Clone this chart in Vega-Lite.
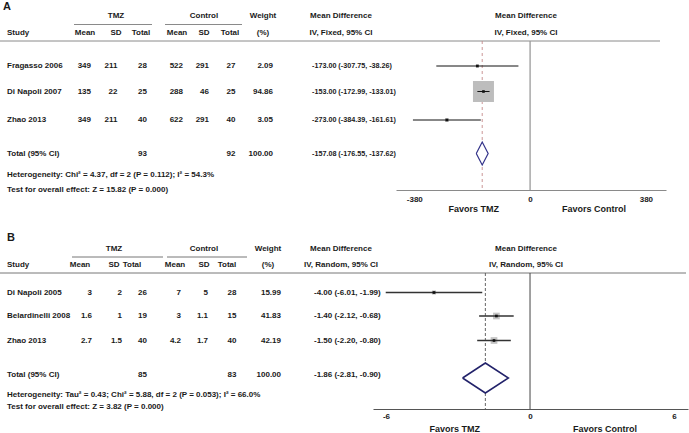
{
  "$schema": "https://vega.github.io/schema/vega-lite/v6.json",
  "width": 689,
  "height": 433,
  "autosize": "none",
  "padding": 0,
  "background": "white",
  "config": {"view": {"stroke": null}, "text": {"font": "Liberation Sans", "fontWeight": "bold", "fontSize": 8, "color": "#1a1a1a", "baseline": "middle"}},
  "datasets": {
    "cells": [
      {"panel": "A", "line": 0, "col": 0, "text": "A"},
      {"panel": "A", "line": 1, "col": 2, "text": "TMZ"},
      {"panel": "A", "line": 1, "col": 5, "text": "Control"},
      {"panel": "A", "line": 1, "col": 7, "text": "Weight"},
      {"panel": "A", "line": 1, "col": 8, "text": "Mean Difference"},
      {"panel": "A", "line": 1, "col": 9, "text": "Mean Difference"},
      {"panel": "A", "line": 2, "col": 0, "text": "Study"},
      {"panel": "A", "line": 2, "col": 1, "text": "Mean"},
      {"panel": "A", "line": 2, "col": 2, "text": "SD"},
      {"panel": "A", "line": 2, "col": 3, "text": "Total"},
      {"panel": "A", "line": 2, "col": 4, "text": "Mean"},
      {"panel": "A", "line": 2, "col": 5, "text": "SD"},
      {"panel": "A", "line": 2, "col": 6, "text": "Total"},
      {"panel": "A", "line": 2, "col": 7, "text": "(%)"},
      {"panel": "A", "line": 2, "col": 8, "text": "IV, Fixed, 95% CI"},
      {"panel": "A", "line": 2, "col": 9, "text": "IV, Fixed, 95% CI"},
      {"panel": "A", "line": 3, "col": 0, "text": "Fragasso 2006"},
      {"panel": "A", "line": 3, "col": 1, "text": "349"},
      {"panel": "A", "line": 3, "col": 2, "text": "211"},
      {"panel": "A", "line": 3, "col": 3, "text": "28"},
      {"panel": "A", "line": 3, "col": 4, "text": "522"},
      {"panel": "A", "line": 3, "col": 5, "text": "291"},
      {"panel": "A", "line": 3, "col": 6, "text": "27"},
      {"panel": "A", "line": 3, "col": 7, "text": "2.09"},
      {"panel": "A", "line": 3, "col": 8, "text": "-173.00 (-307.75, -38.26)"},
      {"panel": "A", "line": 4, "col": 0, "text": "Di Napoli 2007"},
      {"panel": "A", "line": 4, "col": 1, "text": "135"},
      {"panel": "A", "line": 4, "col": 2, "text": "22"},
      {"panel": "A", "line": 4, "col": 3, "text": "25"},
      {"panel": "A", "line": 4, "col": 4, "text": "288"},
      {"panel": "A", "line": 4, "col": 5, "text": "46"},
      {"panel": "A", "line": 4, "col": 6, "text": "25"},
      {"panel": "A", "line": 4, "col": 7, "text": "94.86"},
      {"panel": "A", "line": 4, "col": 8, "text": "-153.00 (-172.99, -133.01)"},
      {"panel": "A", "line": 5, "col": 0, "text": "Zhao 2013"},
      {"panel": "A", "line": 5, "col": 1, "text": "349"},
      {"panel": "A", "line": 5, "col": 2, "text": "211"},
      {"panel": "A", "line": 5, "col": 3, "text": "40"},
      {"panel": "A", "line": 5, "col": 4, "text": "622"},
      {"panel": "A", "line": 5, "col": 5, "text": "291"},
      {"panel": "A", "line": 5, "col": 6, "text": "40"},
      {"panel": "A", "line": 5, "col": 7, "text": "3.05"},
      {"panel": "A", "line": 5, "col": 8, "text": "-273.00 (-384.39, -161.61)"},
      {"panel": "A", "line": 6, "col": 0, "text": "Total (95% CI)"},
      {"panel": "A", "line": 6, "col": 3, "text": "93"},
      {"panel": "A", "line": 6, "col": 6, "text": "92"},
      {"panel": "A", "line": 6, "col": 7, "text": "100.00"},
      {"panel": "A", "line": 6, "col": 8, "text": "-157.08 (-176.55, -137.62)"},
      {"panel": "A", "line": 7, "col": 0, "text": "Heterogeneity: Chi² = 4.37, df = 2 (P = 0.112); I² = 54.3%"},
      {"panel": "A", "line": 8, "col": 0, "text": "Test for overall effect: Z = 15.82 (P = 0.000)"},
      {"panel": "B", "line": 0, "col": 0, "text": "B"},
      {"panel": "B", "line": 1, "col": 2, "text": "TMZ"},
      {"panel": "B", "line": 1, "col": 5, "text": "Control"},
      {"panel": "B", "line": 1, "col": 7, "text": "Weight"},
      {"panel": "B", "line": 1, "col": 8, "text": "Mean Difference"},
      {"panel": "B", "line": 1, "col": 9, "text": "Mean Difference"},
      {"panel": "B", "line": 2, "col": 0, "text": "Study"},
      {"panel": "B", "line": 2, "col": 1, "text": "Mean"},
      {"panel": "B", "line": 2, "col": 2, "text": "SD"},
      {"panel": "B", "line": 2, "col": 3, "text": "Total"},
      {"panel": "B", "line": 2, "col": 4, "text": "Mean"},
      {"panel": "B", "line": 2, "col": 5, "text": "SD"},
      {"panel": "B", "line": 2, "col": 6, "text": "Total"},
      {"panel": "B", "line": 2, "col": 7, "text": "(%)"},
      {"panel": "B", "line": 2, "col": 8, "text": "IV, Random, 95% CI"},
      {"panel": "B", "line": 2, "col": 9, "text": "IV, Random, 95% CI"},
      {"panel": "B", "line": 3, "col": 0, "text": "Di Napoli 2005"},
      {"panel": "B", "line": 3, "col": 1, "text": "3"},
      {"panel": "B", "line": 3, "col": 2, "text": "2"},
      {"panel": "B", "line": 3, "col": 3, "text": "26"},
      {"panel": "B", "line": 3, "col": 4, "text": "7"},
      {"panel": "B", "line": 3, "col": 5, "text": "5"},
      {"panel": "B", "line": 3, "col": 6, "text": "28"},
      {"panel": "B", "line": 3, "col": 7, "text": "15.99"},
      {"panel": "B", "line": 3, "col": 8, "text": "-4.00 (-6.01, -1.99)"},
      {"panel": "B", "line": 4, "col": 0, "text": "Belardinelli 2008"},
      {"panel": "B", "line": 4, "col": 1, "text": "1.6"},
      {"panel": "B", "line": 4, "col": 2, "text": "1"},
      {"panel": "B", "line": 4, "col": 3, "text": "19"},
      {"panel": "B", "line": 4, "col": 4, "text": "3"},
      {"panel": "B", "line": 4, "col": 5, "text": "1.1"},
      {"panel": "B", "line": 4, "col": 6, "text": "15"},
      {"panel": "B", "line": 4, "col": 7, "text": "41.83"},
      {"panel": "B", "line": 4, "col": 8, "text": "-1.40 (-2.12, -0.68)"},
      {"panel": "B", "line": 5, "col": 0, "text": "Zhao 2013"},
      {"panel": "B", "line": 5, "col": 1, "text": "2.7"},
      {"panel": "B", "line": 5, "col": 2, "text": "1.5"},
      {"panel": "B", "line": 5, "col": 3, "text": "40"},
      {"panel": "B", "line": 5, "col": 4, "text": "4.2"},
      {"panel": "B", "line": 5, "col": 5, "text": "1.7"},
      {"panel": "B", "line": 5, "col": 6, "text": "40"},
      {"panel": "B", "line": 5, "col": 7, "text": "42.19"},
      {"panel": "B", "line": 5, "col": 8, "text": "-1.50 (-2.20, -0.80)"},
      {"panel": "B", "line": 6, "col": 0, "text": "Total (95% CI)"},
      {"panel": "B", "line": 6, "col": 3, "text": "85"},
      {"panel": "B", "line": 6, "col": 6, "text": "83"},
      {"panel": "B", "line": 6, "col": 7, "text": "100.00"},
      {"panel": "B", "line": 6, "col": 8, "text": "-1.86 (-2.81, -0.90)"},
      {"panel": "B", "line": 7, "col": 0, "text": "Heterogeneity: Tau² = 0.43; Chi² = 5.88, df = 2 (P = 0.053); I² = 66.0%"},
      {"panel": "B", "line": 8, "col": 0, "text": "Test for overall effect: Z = 3.82 (P = 0.000)"}
    ],
    "studies": [
      {"panel": "A", "line": 3, "study": "Fragasso 2006", "md": -173.0, "lo": -307.75, "hi": -38.26, "weight": 2.09},
      {"panel": "A", "line": 4, "study": "Di Napoli 2007", "md": -153.0, "lo": -172.99, "hi": -133.01, "weight": 94.86},
      {"panel": "A", "line": 5, "study": "Zhao 2013", "md": -273.0, "lo": -384.39, "hi": -161.61, "weight": 3.05},
      {"panel": "B", "line": 3, "study": "Di Napoli 2005", "md": -4.0, "lo": -6.01, "hi": -1.99, "weight": 15.99},
      {"panel": "B", "line": 4, "study": "Belardinelli 2008", "md": -1.4, "lo": -2.12, "hi": -0.68, "weight": 41.83},
      {"panel": "B", "line": 5, "study": "Zhao 2013", "md": -1.5, "lo": -2.2, "hi": -0.8, "weight": 42.19}
    ],
    "diamonds": [
      {"panel": "A", "k": 1, "v": "mid", "x": -176.55},
      {"panel": "A", "k": 2, "v": "top", "x": -157.08},
      {"panel": "A", "k": 3, "v": "mid", "x": -137.62},
      {"panel": "A", "k": 4, "v": "bottom", "x": -157.08},
      {"panel": "A", "k": 5, "v": "mid", "x": -176.55},
      {"panel": "B", "k": 1, "v": "mid", "x": -2.81},
      {"panel": "B", "k": 2, "v": "top", "x": -1.86},
      {"panel": "B", "k": 3, "v": "mid", "x": -0.9},
      {"panel": "B", "k": 4, "v": "bottom", "x": -1.86},
      {"panel": "B", "k": 5, "v": "mid", "x": -2.81}
    ],
    "refs": [
      {"panel": "A", "ref": "null", "value": 0},
      {"panel": "A", "ref": "pooled", "value": -157.08},
      {"panel": "B", "ref": "null", "value": 0},
      {"panel": "B", "ref": "pooled", "value": -1.86}
    ],
    "rules": [
      {"panel": "A", "at": "underline", "from": 1, "to": 3},
      {"panel": "A", "at": "underline", "from": 4, "to": 6},
      {"panel": "A", "at": "separator", "from": -1, "to": 10},
      {"panel": "B", "at": "underline", "from": 1, "to": 3},
      {"panel": "B", "at": "underline", "from": 4, "to": 6},
      {"panel": "B", "at": "separator", "from": -1, "to": 10}
    ],
    "favors": [
      {"panel": "A", "side": "left", "text": "Favors TMZ"},
      {"panel": "A", "side": "right", "text": "Favors Control"},
      {"panel": "B", "side": "left", "text": "Favors TMZ"},
      {"panel": "B", "side": "right", "text": "Favors Control"}
    ]
  },
  "resolve": {"scale": {"x": "independent", "y": "independent", "size": "independent"}, "axis": {"x": "independent", "y": "independent"}},
  "layer": [
    {
      "data": {"name": "cells"},
      "transform": [{"filter": "datum.panel === 'A' && datum.line === 0"}],
      "mark": {"type": "text", "align": "left", "fontSize": 11, "dx": -4},
      "encoding": {
        "x": {"field": "col", "type": "quantitative", "axis": null, "scale": {"domain": [0, 8], "range": [7, 312], "nice": false, "zero": false}},
        "y": {"field": "line", "type": "quantitative", "axis": null, "scale": {"domain": [0, 1, 2, 3, 4, 5, 6, 7, 8, 9], "range": [6.5, 16, 32.5, 66, 91.5, 120, 153.5, 175, 190, 209], "nice": false, "zero": false}},
        "text": {"field": "text"}
      }
    },
    {
      "data": {"name": "cells"},
      "transform": [{"filter": "datum.panel === 'A' && datum.line >= 2 && datum.col === 0"}],
      "mark": {"type": "text", "align": "left"},
      "encoding": {
        "x": {"field": "col", "type": "quantitative", "axis": null, "scale": {"domain": [0, 8], "range": [7, 312], "nice": false, "zero": false}},
        "y": {"field": "line", "type": "quantitative", "axis": null, "scale": {"domain": [0, 1, 2, 3, 4, 5, 6, 7, 8, 9], "range": [6.5, 16, 32.5, 66, 91.5, 120, 153.5, 175, 190, 209], "nice": false, "zero": false}},
        "text": {"field": "text"}
      }
    },
    {
      "data": {"name": "cells"},
      "transform": [{"filter": "datum.panel === 'A' && datum.line >= 3 && datum.col === 8"}],
      "mark": {"type": "text", "align": "left", "fontSize": 7.2},
      "encoding": {
        "x": {"field": "col", "type": "quantitative", "axis": null, "scale": {"domain": [0, 8], "range": [7, 312], "nice": false, "zero": false}},
        "y": {"field": "line", "type": "quantitative", "axis": null, "scale": {"domain": [0, 1, 2, 3, 4, 5, 6, 7, 8, 9], "range": [6.5, 16, 32.5, 66, 91.5, 120, 153.5, 175, 190, 209], "nice": false, "zero": false}},
        "text": {"field": "text"}
      }
    },
    {
      "data": {"name": "cells"},
      "transform": [{"filter": "datum.panel === 'A' && datum.line >= 1 && datum.line <= 2 && datum.col >= 1"}],
      "mark": {"type": "text", "align": "center"},
      "encoding": {
        "x": {"field": "col", "type": "quantitative", "axis": null, "scale": {"domain": [1, 2, 3, 4, 5, 6, 7, 8, 9], "range": [85, 116, 141, 177, 204, 230, 263, 341, 526], "nice": false, "zero": false}},
        "y": {"field": "line", "type": "quantitative", "axis": null, "scale": {"domain": [0, 1, 2, 3, 4, 5, 6, 7, 8, 9], "range": [6.5, 16, 32.5, 66, 91.5, 120, 153.5, 175, 190, 209], "nice": false, "zero": false}},
        "text": {"field": "text"}
      }
    },
    {
      "data": {"name": "cells"},
      "transform": [{"filter": "datum.panel === 'A' && datum.line >= 3 && datum.line <= 6 && datum.col >= 1 && datum.col <= 7"}],
      "mark": {"type": "text", "align": "right"},
      "encoding": {
        "x": {"field": "col", "type": "quantitative", "axis": null, "scale": {"domain": [1, 2, 3, 4, 5, 6, 7], "range": [91, 117.5, 147, 183, 209, 235.5, 273], "nice": false, "zero": false}},
        "y": {"field": "line", "type": "quantitative", "axis": null, "scale": {"domain": [0, 1, 2, 3, 4, 5, 6, 7, 8, 9], "range": [6.5, 16, 32.5, 66, 91.5, 120, 153.5, 175, 190, 209], "nice": false, "zero": false}},
        "text": {"field": "text"}
      }
    },
    {
      "data": {"name": "rules"},
      "transform": [{"filter": "datum.panel === 'A'"}],
      "mark": {"type": "rule", "color": "#8a8a8a", "strokeWidth": 1},
      "encoding": {
        "x": {"field": "from", "type": "quantitative", "axis": null, "scale": {"domain": [-1, 1, 3, 4, 6, 10], "range": [0, 74, 152, 165, 242, 660], "nice": false, "zero": false}},
        "x2": {"field": "to"},
        "y": {"field": "at", "type": "nominal", "axis": null, "scale": {"type": "point", "domain": ["underline", "separator"], "range": [24.5, 41], "padding": 0}}
      }
    },
    {
      "data": {"name": "refs"},
      "transform": [{"filter": "datum.panel === 'A' && datum.ref === 'null'"}],
      "mark": {"type": "rule", "color": "#9a9a9a", "strokeWidth": 1.3},
      "encoding": {
        "x": {"field": "value", "type": "quantitative", "axis": null, "scale": {"domain": [-440, 446], "range": [396, 666], "nice": false, "zero": false}},
        "y": {"datum": "top", "type": "nominal", "axis": null, "scale": {"type": "point", "domain": ["top", "bottom"], "range": [41, 190], "padding": 0}},
        "y2": {"datum": "bottom"}
      }
    },
    {
      "data": {"name": "refs"},
      "transform": [{"filter": "datum.panel === 'A' && datum.ref === 'pooled'"}],
      "mark": {"type": "rule", "color": "#c48a8a", "strokeWidth": 0.9, "strokeDash": [3, 3]},
      "encoding": {
        "x": {"field": "value", "type": "quantitative", "axis": null, "scale": {"domain": [-440, 446], "range": [396, 666], "nice": false, "zero": false}},
        "y": {"datum": "top", "type": "nominal", "axis": null, "scale": {"type": "point", "domain": ["top", "bottom"], "range": [41, 190], "padding": 0}},
        "y2": {"datum": "bottom"}
      }
    },
    {
      "data": {"name": "studies"},
      "transform": [{"filter": "datum.panel === 'A'"}],
      "mark": {"type": "point", "shape": "square", "filled": true, "color": "#bdbdbd", "opacity": 1},
      "encoding": {
        "x": {"field": "md", "type": "quantitative", "axis": null, "scale": {"domain": [-440, 446], "range": [396, 666], "nice": false, "zero": false}},
        "y": {"field": "line", "type": "quantitative", "axis": null, "scale": {"domain": [0, 1, 2, 3, 4, 5, 6, 7, 8, 9], "range": [6.5, 16, 32.5, 66, 91.5, 120, 153.5, 175, 190, 209], "nice": false, "zero": false}},
        "size": {"field": "weight", "type": "quantitative", "legend": null, "scale": {"domain": [0, 100], "range": [0, 465], "zero": true}}
      }
    },
    {
      "data": {"name": "studies"},
      "transform": [{"filter": "datum.panel === 'A'"}],
      "mark": {"type": "rule", "color": "#111111", "strokeWidth": 1},
      "encoding": {
        "x": {"field": "lo", "type": "quantitative", "scale": {"domain": [-440, 446], "range": [396, 666], "nice": false, "zero": false},
              "axis": {"orient": "bottom", "offset": -243, "values": [-380, 0, 380], "labelExpr": "'' + datum.value", "ticks": false, "grid": false, "title": null, "domainColor": "#8a8a8a", "domainWidth": 1, "labelFont": "Liberation Sans", "labelFontWeight": "bold", "labelFontSize": 8, "labelColor": "#1a1a1a", "labelPadding": 5, "labelFlush": false, "labelOverlap": false}},
        "x2": {"field": "hi"},
        "y": {"field": "line", "type": "quantitative", "axis": null, "scale": {"domain": [0, 1, 2, 3, 4, 5, 6, 7, 8, 9], "range": [6.5, 16, 32.5, 66, 91.5, 120, 153.5, 175, 190, 209], "nice": false, "zero": false}}
      }
    },
    {
      "data": {"name": "studies"},
      "transform": [{"filter": "datum.panel === 'A'"}],
      "mark": {"type": "point", "shape": "square", "filled": true, "color": "#111111", "size": 7, "opacity": 1},
      "encoding": {
        "x": {"field": "md", "type": "quantitative", "axis": null, "scale": {"domain": [-440, 446], "range": [396, 666], "nice": false, "zero": false}},
        "y": {"field": "line", "type": "quantitative", "axis": null, "scale": {"domain": [0, 1, 2, 3, 4, 5, 6, 7, 8, 9], "range": [6.5, 16, 32.5, 66, 91.5, 120, 153.5, 175, 190, 209], "nice": false, "zero": false}}
      }
    },
    {
      "data": {"name": "diamonds"},
      "transform": [{"filter": "datum.panel === 'A'"}],
      "mark": {"type": "line", "filled": true, "fill": "white", "stroke": "#33338a", "strokeWidth": 1.2},
      "encoding": {
        "x": {"field": "x", "type": "quantitative", "axis": null, "scale": {"domain": [-440, 446], "range": [396, 666], "nice": false, "zero": false}},
        "y": {"field": "v", "type": "nominal", "axis": null, "scale": {"type": "point", "domain": ["top", "mid", "bottom"], "range": [142, 165], "padding": 0}},
        "order": {"field": "k", "type": "quantitative"}
      }
    },
    {
      "data": {"name": "favors"},
      "transform": [{"filter": "datum.panel === 'A' && datum.side === 'left'"}],
      "mark": {"type": "text", "align": "right", "dx": -31, "fontSize": 9},
      "encoding": {
        "x": {"datum": 0, "type": "quantitative", "axis": null, "scale": {"domain": [-440, 446], "range": [396, 666], "nice": false, "zero": false}},
        "y": {"datum": 9, "type": "quantitative", "axis": null, "scale": {"domain": [0, 1, 2, 3, 4, 5, 6, 7, 8, 9], "range": [6.5, 16, 32.5, 66, 91.5, 120, 153.5, 175, 190, 209], "nice": false, "zero": false}},
        "text": {"field": "text"}
      }
    },
    {
      "data": {"name": "favors"},
      "transform": [{"filter": "datum.panel === 'A' && datum.side === 'right'"}],
      "mark": {"type": "text", "align": "left", "dx": 32, "fontSize": 9},
      "encoding": {
        "x": {"datum": 0, "type": "quantitative", "axis": null, "scale": {"domain": [-440, 446], "range": [396, 666], "nice": false, "zero": false}},
        "y": {"datum": 9, "type": "quantitative", "axis": null, "scale": {"domain": [0, 1, 2, 3, 4, 5, 6, 7, 8, 9], "range": [6.5, 16, 32.5, 66, 91.5, 120, 153.5, 175, 190, 209], "nice": false, "zero": false}},
        "text": {"field": "text"}
      }
    },
    {
      "data": {"name": "cells"},
      "transform": [{"filter": "datum.panel === 'B' && datum.line === 0"}],
      "mark": {"type": "text", "align": "left", "fontSize": 11},
      "encoding": {
        "x": {"field": "col", "type": "quantitative", "axis": null, "scale": {"domain": [0, 8], "range": [7, 314], "nice": false, "zero": false}},
        "y": {"field": "line", "type": "quantitative", "axis": null, "scale": {"domain": [0, 1, 2, 3, 4, 5, 6, 7, 8, 9], "range": [237.5, 248.5, 264.5, 292.5, 316, 340.5, 375, 395, 406.5, 429], "nice": false, "zero": false}},
        "text": {"field": "text"}
      }
    },
    {
      "data": {"name": "cells"},
      "transform": [{"filter": "datum.panel === 'B' && datum.line >= 2 && (datum.col === 0 || (datum.col === 8 && datum.line >= 3))"}],
      "mark": {"type": "text", "align": "left"},
      "encoding": {
        "x": {"field": "col", "type": "quantitative", "axis": null, "scale": {"domain": [0, 8], "range": [7, 314], "nice": false, "zero": false}},
        "y": {"field": "line", "type": "quantitative", "axis": null, "scale": {"domain": [0, 1, 2, 3, 4, 5, 6, 7, 8, 9], "range": [237.5, 248.5, 264.5, 292.5, 316, 340.5, 375, 395, 406.5, 429], "nice": false, "zero": false}},
        "text": {"field": "text"}
      }
    },
    {
      "data": {"name": "cells"},
      "transform": [{"filter": "datum.panel === 'B' && datum.line >= 1 && datum.line <= 2 && datum.col >= 1"}],
      "mark": {"type": "text", "align": "center"},
      "encoding": {
        "x": {"field": "col", "type": "quantitative", "axis": null, "scale": {"domain": [1, 2, 3, 4, 5, 6, 7, 8, 9], "range": [80, 114, 132, 175, 204, 227, 268, 341, 526], "nice": false, "zero": false}},
        "y": {"field": "line", "type": "quantitative", "axis": null, "scale": {"domain": [0, 1, 2, 3, 4, 5, 6, 7, 8, 9], "range": [237.5, 248.5, 264.5, 292.5, 316, 340.5, 375, 395, 406.5, 429], "nice": false, "zero": false}},
        "text": {"field": "text"}
      }
    },
    {
      "data": {"name": "cells"},
      "transform": [{"filter": "datum.panel === 'B' && datum.line >= 3 && datum.line <= 6 && datum.col >= 1 && datum.col <= 7"}],
      "mark": {"type": "text", "align": "right"},
      "encoding": {
        "x": {"field": "col", "type": "quantitative", "axis": null, "scale": {"domain": [1, 2, 3, 4, 5, 6, 7], "range": [92, 122, 147, 181, 208, 236.5, 281], "nice": false, "zero": false}},
        "y": {"field": "line", "type": "quantitative", "axis": null, "scale": {"domain": [0, 1, 2, 3, 4, 5, 6, 7, 8, 9], "range": [237.5, 248.5, 264.5, 292.5, 316, 340.5, 375, 395, 406.5, 429], "nice": false, "zero": false}},
        "text": {"field": "text"}
      }
    },
    {
      "data": {"name": "rules"},
      "transform": [{"filter": "datum.panel === 'B'"}],
      "mark": {"type": "rule", "color": "#777777", "strokeWidth": 1},
      "encoding": {
        "x": {"field": "from", "type": "quantitative", "axis": null, "scale": {"domain": [-1, 1, 3, 4, 6, 10], "range": [0, 72, 163, 167, 247, 686], "nice": false, "zero": false}},
        "x2": {"field": "to"},
        "y": {"field": "at", "type": "nominal", "axis": null, "scale": {"type": "point", "domain": ["underline", "separator"], "range": [257, 273], "padding": 0}}
      }
    },
    {
      "data": {"name": "refs"},
      "transform": [{"filter": "datum.panel === 'B' && datum.ref === 'null'"}],
      "mark": {"type": "rule", "color": "#444444", "strokeWidth": 1},
      "encoding": {
        "x": {"field": "value", "type": "quantitative", "axis": null, "scale": {"domain": [-6.54, 6.58], "range": [373, 688], "nice": false, "zero": false}},
        "y": {"datum": "top", "type": "nominal", "axis": null, "scale": {"type": "point", "domain": ["top", "bottom"], "range": [273, 409], "padding": 0}},
        "y2": {"datum": "bottom"}
      }
    },
    {
      "data": {"name": "refs"},
      "transform": [{"filter": "datum.panel === 'B' && datum.ref === 'pooled'"}],
      "mark": {"type": "rule", "color": "#555555", "strokeWidth": 0.9, "strokeDash": [3, 2]},
      "encoding": {
        "x": {"field": "value", "type": "quantitative", "axis": null, "scale": {"domain": [-6.54, 6.58], "range": [373, 688], "nice": false, "zero": false}},
        "y": {"datum": "top", "type": "nominal", "axis": null, "scale": {"type": "point", "domain": ["top", "bottom"], "range": [273, 409], "padding": 0}},
        "y2": {"datum": "bottom"}
      }
    },
    {
      "data": {"name": "studies"},
      "transform": [{"filter": "datum.panel === 'B'"}],
      "mark": {"type": "point", "shape": "square", "filled": true, "color": "#c4c4c4", "opacity": 1},
      "encoding": {
        "x": {"field": "md", "type": "quantitative", "axis": null, "scale": {"domain": [-6.54, 6.58], "range": [373, 688], "nice": false, "zero": false}},
        "y": {"field": "line", "type": "quantitative", "axis": null, "scale": {"domain": [0, 1, 2, 3, 4, 5, 6, 7, 8, 9], "range": [237.5, 248.5, 264.5, 292.5, 316, 340.5, 375, 395, 406.5, 429], "nice": false, "zero": false}},
        "size": {"field": "weight", "type": "quantitative", "legend": null, "scale": {"domain": [0, 100], "range": [0, 107], "zero": true}}
      }
    },
    {
      "data": {"name": "studies"},
      "transform": [{"filter": "datum.panel === 'B'"}],
      "mark": {"type": "rule", "color": "#333333", "strokeWidth": 1.4},
      "encoding": {
        "x": {"field": "lo", "type": "quantitative", "scale": {"domain": [-6.54, 6.58], "range": [373, 688], "nice": false, "zero": false},
              "axis": {"orient": "bottom", "offset": -24, "values": [-6, 0, 6], "labelExpr": "'' + datum.value", "ticks": false, "grid": false, "title": null, "domainColor": "#555555", "domainWidth": 1, "labelFont": "Liberation Sans", "labelFontWeight": "bold", "labelFontSize": 8, "labelColor": "#1a1a1a", "labelPadding": 3, "labelFlush": false, "labelOverlap": false}},
        "x2": {"field": "hi"},
        "y": {"field": "line", "type": "quantitative", "axis": null, "scale": {"domain": [0, 1, 2, 3, 4, 5, 6, 7, 8, 9], "range": [237.5, 248.5, 264.5, 292.5, 316, 340.5, 375, 395, 406.5, 429], "nice": false, "zero": false}}
      }
    },
    {
      "data": {"name": "studies"},
      "transform": [{"filter": "datum.panel === 'B'"}],
      "mark": {"type": "point", "shape": "square", "filled": true, "color": "#111111", "size": 7, "opacity": 1},
      "encoding": {
        "x": {"field": "md", "type": "quantitative", "axis": null, "scale": {"domain": [-6.54, 6.58], "range": [373, 688], "nice": false, "zero": false}},
        "y": {"field": "line", "type": "quantitative", "axis": null, "scale": {"domain": [0, 1, 2, 3, 4, 5, 6, 7, 8, 9], "range": [237.5, 248.5, 264.5, 292.5, 316, 340.5, 375, 395, 406.5, 429], "nice": false, "zero": false}}
      }
    },
    {
      "data": {"name": "diamonds"},
      "transform": [{"filter": "datum.panel === 'B'"}],
      "mark": {"type": "line", "filled": true, "fill": "white", "stroke": "#22226a", "strokeWidth": 1.5},
      "encoding": {
        "x": {"field": "x", "type": "quantitative", "axis": null, "scale": {"domain": [-6.54, 6.58], "range": [373, 688], "nice": false, "zero": false}},
        "y": {"field": "v", "type": "nominal", "axis": null, "scale": {"type": "point", "domain": ["top", "mid", "bottom"], "range": [363, 393], "padding": 0}},
        "order": {"field": "k", "type": "quantitative"}
      }
    },
    {
      "data": {"name": "favors"},
      "transform": [{"filter": "datum.panel === 'B' && datum.side === 'left'"}],
      "mark": {"type": "text", "align": "right", "dx": -50, "fontSize": 9},
      "encoding": {
        "x": {"datum": 0, "type": "quantitative", "axis": null, "scale": {"domain": [-6.54, 6.58], "range": [373, 688], "nice": false, "zero": false}},
        "y": {"datum": 9, "type": "quantitative", "axis": null, "scale": {"domain": [0, 1, 2, 3, 4, 5, 6, 7, 8, 9], "range": [237.5, 248.5, 264.5, 292.5, 316, 340.5, 375, 395, 406.5, 429], "nice": false, "zero": false}},
        "text": {"field": "text"}
      }
    },
    {
      "data": {"name": "favors"},
      "transform": [{"filter": "datum.panel === 'B' && datum.side === 'right'"}],
      "mark": {"type": "text", "align": "left", "dx": 43, "fontSize": 9},
      "encoding": {
        "x": {"datum": 0, "type": "quantitative", "axis": null, "scale": {"domain": [-6.54, 6.58], "range": [373, 688], "nice": false, "zero": false}},
        "y": {"datum": 9, "type": "quantitative", "axis": null, "scale": {"domain": [0, 1, 2, 3, 4, 5, 6, 7, 8, 9], "range": [237.5, 248.5, 264.5, 292.5, 316, 340.5, 375, 395, 406.5, 429], "nice": false, "zero": false}},
        "text": {"field": "text"}
      }
    }
  ]
}
